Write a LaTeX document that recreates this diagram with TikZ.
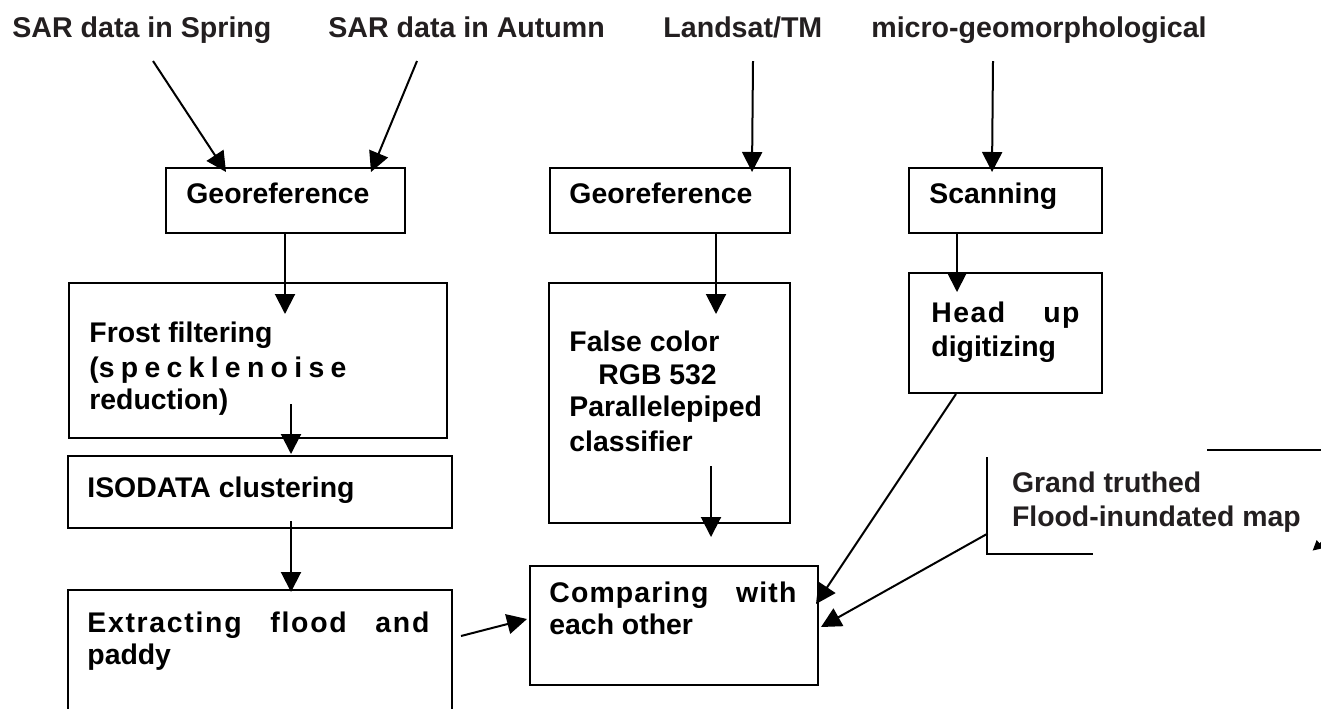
\documentclass[tikz,border=0pt]{standalone}
\usepackage{fontspec}
\setmainfont{Liberation Sans}
\usetikzlibrary{arrows.meta,fit,calc}
\definecolor{labelgray}{RGB}{35,31,32}
\tikzset{
  box/.style={draw, line width=1pt, inner sep=0pt},
  txt/.style={inner sep=0pt, anchor=base west, font=\fontsize{14.2}{17}\selectfont\bfseries},
  toplbl/.style={txt, text=labelgray, font=\fontsize{14.3}{17}\selectfont\bfseries},
  arr/.style={line width=1pt, -{Triangle[length=10pt,width=10pt]}},
  smallarr/.style={line width=1pt, -{Triangle[length=5pt,width=5pt]}},
}
\begin{document}
\begin{tikzpicture}[x=0.5pt, y=-0.5pt]
\clip (0,0) rectangle (1321,708);
\fill[white] (0,0) rectangle (1321,708);

% top labels
\node[toplbl] (spring) at (12,37) {SAR data in Spring};
\node[toplbl] (autumn) at (328,37) {SAR data in Autumn};
\node[toplbl] (landsat) at (663,37) {Landsat/TM};
\node[toplbl, anchor=base east] (micro) at (1207,37) {micro-geomorphological};

% boxes
\node[box, fit={(166,168) (405,233)}] (geo1) {};
\node[box, fit={(550,168) (790,233)}] (geo2) {};
\node[box, fit={(909,168) (1102,233)}] (scan) {};
\node[box, fit={(69,283) (447,438)}] (frost) {};
\node[box, fit={(68,456) (452,528)}] (iso) {};
\node[box, fit={(68,590) (452,740)}] (extr) {};
\node[box, fit={(549,283) (790,523)}] (false) {};
\node[box, fit={(909,273) (1102,393)}] (head) {};
\node[box, fit={(530,566) (818,685)}] (comp) {};
\node[inner sep=0pt, fit={(987,450) (1330,554)}] (grand) {};
\draw[line width=1pt] (1207,450) -- (1330,450);
\draw[line width=1pt] (987,457) -- (987,554) -- (1093,554);

% box texts
\node[txt] (geo1t) at ($(geo1.north west)+(21,36)$) {Georeference};
\node[txt] (geo2t) at ($(geo2.north west)+(20,36)$) {Georeference};
\node[txt] (scant) at ($(scan.north west)+(21,36)$) {Scanning};
\node[txt] (frost1) at ($(frost.north west)+(21,60)$) {Frost filtering};
\node[txt] (frost2) at ($(frost.north west)+(21,95)$) {\makebox[128.5pt][s]{(s p e c k l e n o i s e}};
\node[txt] (frost3) at ($(frost.north west)+(21,127)$) {reduction)};
\node[txt] (isot) at ($(iso.north west)+(20,42)$) {ISODATA clustering};
\node[txt] (extr1) at ($(extr.north west)+(20,43)$) {\makebox[171pt][s]{\addfontfeature{LetterSpace=6}Extracting flood and}};
\node[txt] (extr2) at ($(extr.north west)+(20,75)$) {paddy};
\node[txt] (false1) at ($(false.north west)+(21,69)$) {False color};
\node[txt] (false2) at ($(false.north west)+(50,102)$) {RGB 532};
\node[txt] (false3) at ($(false.north west)+(21,134)$) {Parallelepiped};
\node[txt] (false4) at ($(false.north west)+(21,169)$) {classifier};
\node[txt] (head1) at ($(head.north west)+(23,50)$) {\makebox[74pt][s]{\addfontfeature{LetterSpace=5}Head up}};
\node[txt] (head2) at ($(head.north west)+(23,84)$) {digitizing};
\node[txt] (comp1) at ($(comp.north west)+(20,37)$) {\makebox[123.5pt][s]{\addfontfeature{LetterSpace=4}Comparing with}};
\node[txt] (comp2) at ($(comp.north west)+(20,69)$) {each other};
\node[txt, text=labelgray] (grand1) at ($(grand.north west)+(25,43)$) {Grand truthed};
\node[txt, text=labelgray] (grand2) at ($(grand.north west)+(25,77)$) {Flood-inundated map};

% connectors
\draw[arr] ($(spring.base west)+(141,24)$) -- ($(geo1.north west)+(61,5)$);
\draw[arr] ($(autumn.base west)+(89,24)$) -- ($(geo1.north west)+(206,5)$);
\draw[arr] ($(landsat.base west)+(90,24)$) -- ($(geo2.north west)+(203,5)$);
\draw[arr] ($(micro.base east)+(-214,24)$) -- ($(scan.north west)+(84,5)$);
\draw[arr] ($(geo1.south west)+(120,0)$) -- ($(frost.north west)+(217,32)$);
\draw[arr] ($(frost.north west)+(223,122)$) -- ($(iso.north west)+(224,-1)$);
\draw[arr] ($(iso.north west)+(224,66)$) -- ($(extr.north west)+(224,3)$);
\draw[arr] ($(geo2.south west)+(167,0)$) -- ($(false.north west)+(168,32)$);
\draw[arr] ($(false.north west)+(163,184)$) -- ($(comp.north west)+(182,-28)$);
\draw[arr] ($(scan.south west)+(49,0)$) -- ($(head.north west)+(49,20)$);
\draw[arr] ($(head.south west)+(48,0)$) -- ($(comp.north east)+(-3,39)$);
\draw[arr] ($(grand.north west)+(1,84)$) -- ($(comp.north east)+(2,62)$);
\draw[arr] ($(extr.north east)+(8,47)$) -- ($(comp.north west)+(-2,54)$);
\coordinate (stray) at ($(grand.north west)+(350,80)$);
\draw[smallarr] (stray) -- ($(grand.north west)+(326,101)$);
\end{tikzpicture}
\end{document}
